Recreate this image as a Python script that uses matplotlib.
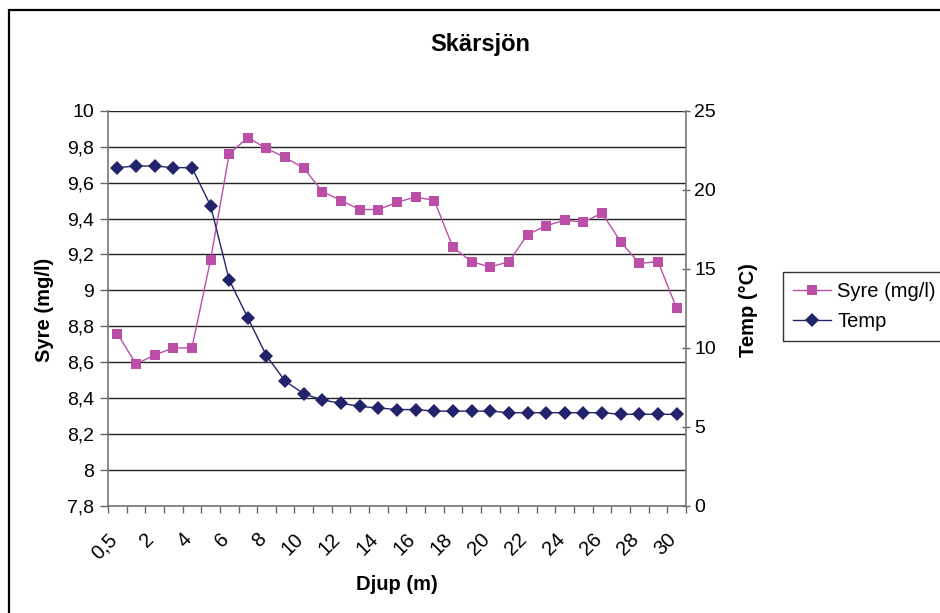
import matplotlib
matplotlib.use("Agg")
import matplotlib.pyplot as plt
from matplotlib.patches import Rectangle
from matplotlib.lines import Line2D
from matplotlib.transforms import ScaledTranslation

plt.rcParams['font.family'] = ['Liberation Sans', 'DejaVu Sans']

# Depth categories (m)
depth = ["0,5"] + [str(d) for d in range(1, 31)]

# Dissolved oxygen (mg/l)
syre = [8.76, 8.59, 8.64, 8.68, 8.68, 9.17, 9.76, 9.85, 9.79, 9.74,
        9.68, 9.55, 9.50, 9.45, 9.45, 9.49, 9.52, 9.50, 9.24, 9.16,
        9.13, 9.16, 9.31, 9.36, 9.39, 9.38, 9.43, 9.27, 9.15, 9.16,
        8.90]

# Water temperature (°C)
temp = [21.4, 21.5, 21.5, 21.4, 21.4, 19.0, 14.3, 11.9, 9.5, 7.9,
        7.1, 6.7, 6.5, 6.3, 6.2, 6.1, 6.1, 6.0, 6.0, 6.0,
        6.0, 5.9, 5.9, 5.9, 5.9, 5.9, 5.9, 5.8, 5.8, 5.8,
        5.8]

syre_ticks = [7.8, 8.0, 8.2, 8.4, 8.6, 8.8, 9.0, 9.2, 9.4, 9.6, 9.8, 10.0]
temp_ticks = [0, 5, 10, 15, 20, 25]

W, H = 940, 613
fig = plt.figure(figsize=(W / 100, H / 100), dpi=100)

# chart frame
fig.patches.append(Rectangle((8.5 / W, -0.05), 1.2, 1 - 10 / H + 0.05,
                             transform=fig.transFigure, fill=False,
                             edgecolor='black', linewidth=1.6))

ax = fig.add_axes([108 / W, 1 - 506 / H, (686 - 108) / W, (506 - 110.7) / H])
ax2 = ax.twinx()

x = list(range(len(depth)))
pink = '#BB4FA8'
navy = '#23236B'

ax.plot(x, syre, color=pink, marker='s', markersize=6.8, linewidth=1.0,
        markeredgewidth=0, label='Syre (mg/l)', zorder=3)
ax2.plot(x, temp, color=navy, marker='D', markersize=6.8, linewidth=1.0,
         markeredgewidth=0, label='Temp', zorder=3)

ax.set_xlim(-0.5, len(depth) - 0.5)
ax.set_ylim(7.8, 10.0)
ax2.set_ylim(0, 25)

# gridlines
ax.set_yticks(syre_ticks)
ax.yaxis.grid(True, color='#222222', linewidth=1.0)
ax.set_axisbelow(True)
ax.set_yticklabels([f"{v:g}".replace('.', ',') for v in syre_ticks])
ax2.set_yticks(temp_ticks)
ax2.set_yticklabels([str(v) for v in temp_ticks])

# x ticks: marks at category boundaries, labels at every other category
ax.set_xticks([i - 0.5 for i in range(len(depth) + 1)], minor=True)
ax.set_xticks(x[::2])
ax.set_xticklabels(depth[::2], rotation=45, ha='right', va='top',
                   rotation_mode='anchor')
ax.tick_params(axis='x', which='major', length=0, pad=17, labelsize=14.5)
shift = ScaledTranslation(-10 / 100, 0, fig.dpi_scale_trans)
for lbl in ax.get_xticklabels():
    lbl.set_transform(lbl.get_transform() + shift)
ax.tick_params(axis='x', which='minor', length=5, width=1, color='#666666',
               direction='out')
ax.tick_params(axis='y', length=6, width=1, color='#666666', labelsize=14,
               pad=4)
ax2.tick_params(axis='y', length=6, width=1, color='#666666', labelsize=14,
                direction='inout', pad=3)

for a in (ax, ax2):
    a.spines['top'].set_visible(False)
    for s in ('left', 'right', 'bottom'):
        a.spines[s].set_color('#777777')
        a.spines[s].set_linewidth(1.2)
ax.spines['right'].set_visible(False)
ax2.spines['left'].set_visible(False)
ax2.spines['bottom'].set_visible(False)

fig.text(480 / W, 1 - 45 / H, 'Skärsjön', ha='center', va='center',
         fontsize=17, fontweight='bold')
fig.text(45 / W, 1 - 310 / H, 'Syre (mg/l)', ha='center', va='center',
         rotation=90, fontsize=14.5, fontweight='bold')
fig.text(748 / W, 1 - 310 / H, 'Temp (°C)', ha='center', va='center',
         rotation=90, fontsize=14.5, fontweight='bold')
fig.text(397 / W, 1 - 585 / H, 'Djup (m)', ha='center', va='center',
         fontsize=14.5, fontweight='bold')

handles = [Line2D([], [], color=pink, marker='s', markersize=6.8,
                  markeredgewidth=0, linewidth=1.0),
           Line2D([], [], color=navy, marker='D', markersize=6.8,
                  markeredgewidth=0, linewidth=1.0)]
leg = fig.legend(handles, ['Syre (mg/l)', 'Temp'], loc='lower left',
                 bbox_to_anchor=(783 / W, 1 - 341 / H), fontsize=14.5,
                 frameon=True, fancybox=False, borderpad=0.5,
                 handlelength=1.9, handletextpad=0.3, labelspacing=0.55,
                 borderaxespad=0)
leg.get_frame().set_edgecolor('black')
leg.get_frame().set_linewidth(1.0)

fig.savefig('out.png', dpi=100)
